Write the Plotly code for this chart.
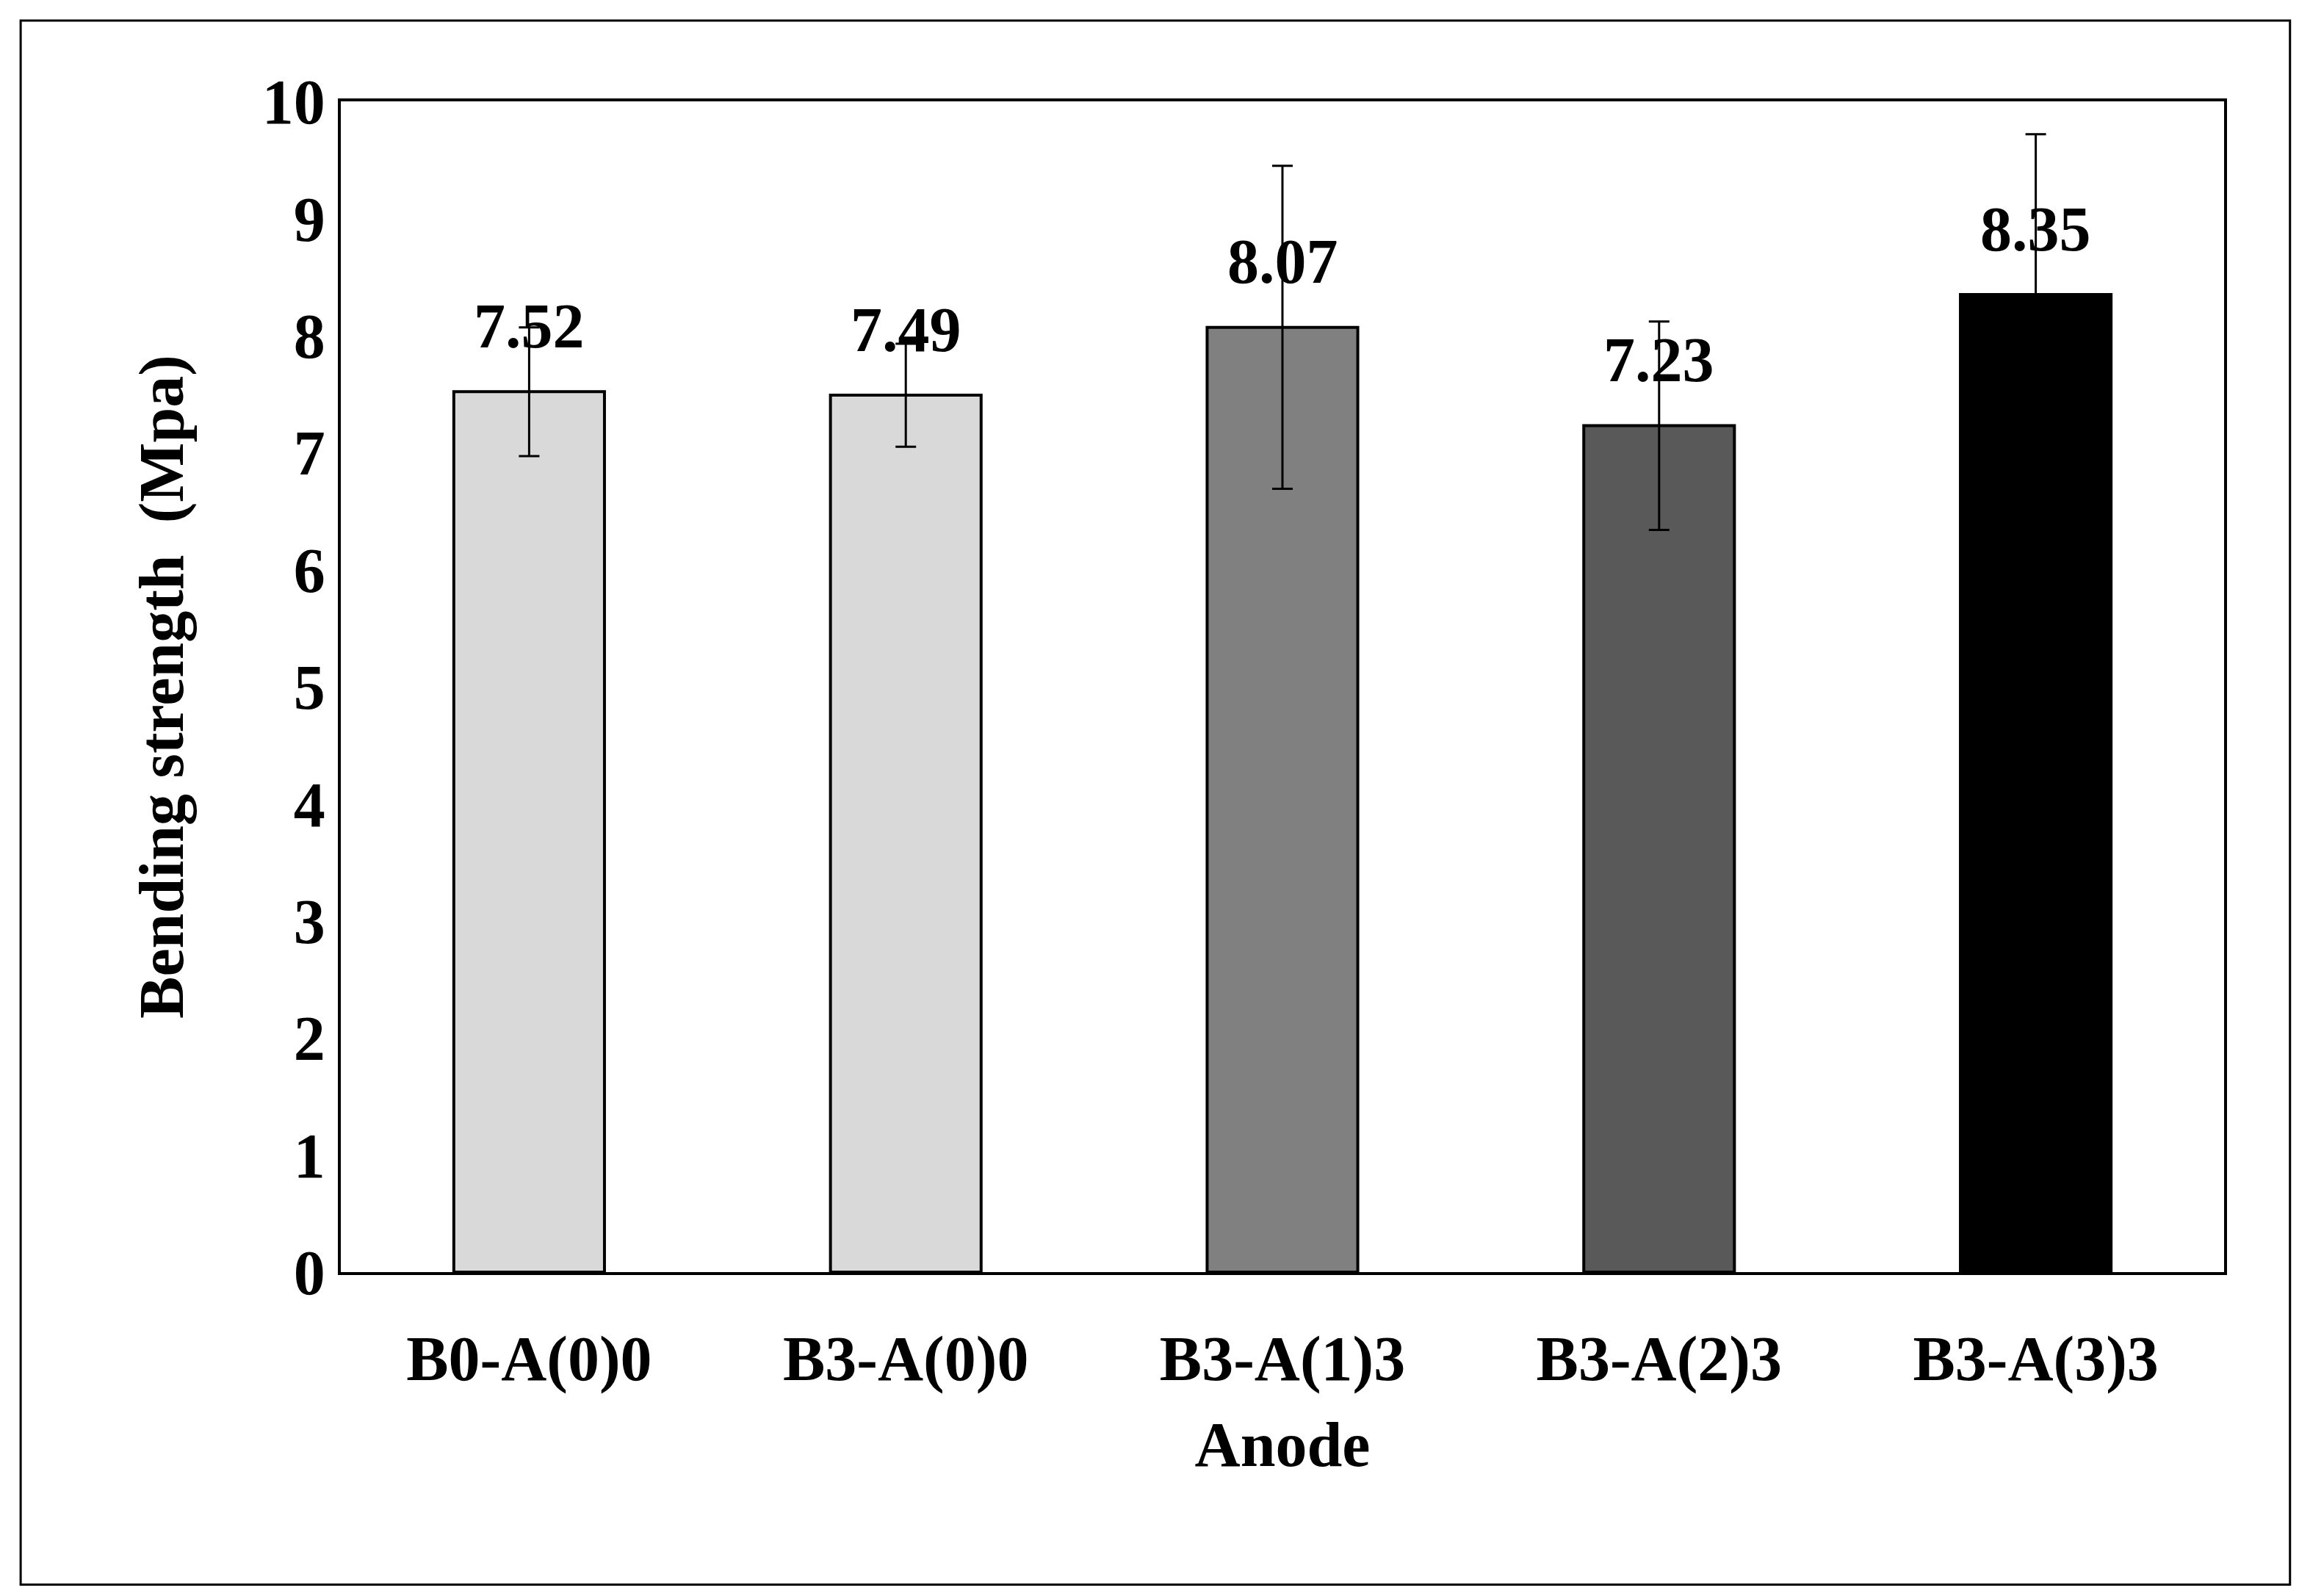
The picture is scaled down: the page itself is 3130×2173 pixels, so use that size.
import plotly.graph_objects as go

categories = ["B0-A(0)0", "B3-A(0)0", "B3-A(1)3", "B3-A(2)3", "B3-A(3)3"]
strength = [7.52, 7.49, 8.07, 7.23, 8.35]
errors = [0.55, 0.44, 1.38, 0.89, 1.37]
colors = ["#d9d9d9", "#d9d9d9", "#808080", "#595959", "#000000"]

FONT = "Liberation Serif"

fig = go.Figure()
fig.add_trace(go.Bar(
    x=categories, y=strength, width=0.4,
    marker=dict(color=colors, line=dict(color="black", width=4)),
    error_y=dict(type="data", array=errors, color="black", thickness=3, width=14),
    showlegend=False,
))

for c, v in zip(categories, strength):
    fig.add_annotation(x=c, y=v + 0.56, text=f"<b>{v:.2f}</b>", showarrow=False,
                       font=dict(family=FONT, size=86, color="black"))

fig.update_xaxes(
    title=dict(text="<b>Anode</b>", font=dict(family=FONT, size=86, color="black"), standoff=40),
    tickfont=dict(family=FONT, size=86, color="black"),
    tickprefix="<b>", ticksuffix="</b>", ticklabelstandoff=40,
    showline=True, linecolor="black", linewidth=4, mirror=True, ticks="",
)
fig.update_yaxes(
    title=dict(text="<b>Bending strength  (Mpa)</b>", font=dict(family=FONT, size=86, color="black"), standoff=80),
    tickfont=dict(family=FONT, size=86, color="black"),
    tickprefix="<b>", ticksuffix="</b>",
    range=[0, 10], dtick=1, showgrid=False,
    showline=True, linecolor="black", linewidth=4, mirror=True, ticks="",
)

fig.add_shape(type="rect", xref="paper", yref="paper", x0=-0.170, y0=-0.267, x1=1.035, y1=1.069,
              line=dict(color="black", width=3))

fig.update_layout(
    width=3130, height=2173,
    margin=dict(l=456, r=110, t=130, b=449),
    plot_bgcolor="white", paper_bgcolor="white",
)

fig.write_html("out.html")
